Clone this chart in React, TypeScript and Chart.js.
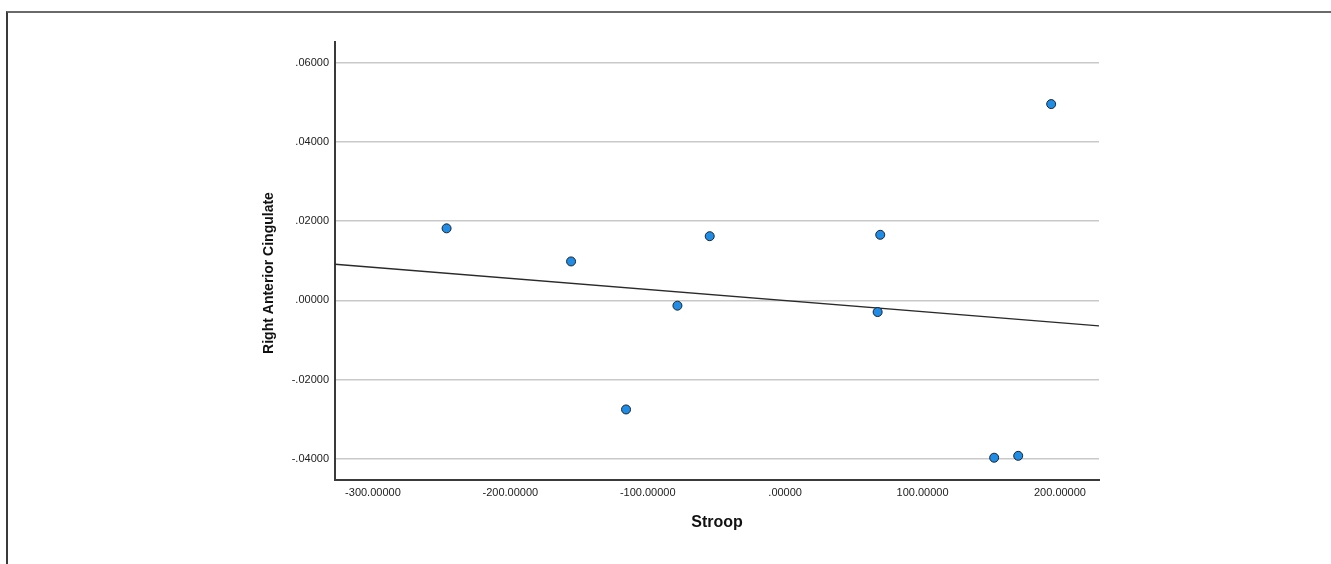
import React, { useEffect, useRef } from "react";
import { Chart, registerables } from "chart.js";

Chart.register(...registerables);

// Stroop scores (x) and Right Anterior Cingulate values (y)
const stroopValues = [-246.4, -155.8, -78.4, -115.8, -54.9, 69.2, 67.3, 152.1, 169.6, 193.6];
const racValues = [0.0182, 0.00984, -0.00134, -0.02757, 0.01622, 0.01657, -0.00295, -0.03977, -0.03929, 0.04961];

const xTicks = [-300, -200, -100, 0, 100, 200];
const yTicks = [-0.04, -0.02, 0, 0.02, 0.04, 0.06];

const xRange = [-327.6, 228.4];
const yRange = [-0.0454, 0.0653];

const xTitle = "Stroop";
const yTitle = "Right Anterior Cingulate";

const FONT = "'Liberation Sans', Arial, Helvetica, sans-serif";

function fmt(v: number): string {
  const s = Math.abs(v).toFixed(5);
  const body = s.startsWith("0") ? s.slice(1) : s;
  return (v < 0 ? "-" : "") + body;
}

function fitLine(xs: number[], ys: number[], x0: number, x1: number) {
  const n = xs.length;
  const mx = xs.reduce((a, b) => a + b, 0) / n;
  const my = ys.reduce((a, b) => a + b, 0) / n;
  let sxy = 0;
  let sxx = 0;
  for (let i = 0; i < n; i++) {
    sxy += (xs[i] - mx) * (ys[i] - my);
    sxx += (xs[i] - mx) * (xs[i] - mx);
  }
  const b = sxy / sxx;
  const a = my - b * mx;
  return [
    { x: x0, y: a + b * x0 },
    { x: x1, y: a + b * x1 },
  ];
}

// Draws the vertical axis title, slightly below the plot's vertical centre (as in the source)
const yTitlePlugin = {
  id: "yTitlePlugin",
  afterDraw(chart: any) {
    const { ctx, chartArea } = chart;
    const cx = chartArea.left - 66;
    const cy = (chartArea.top + chartArea.bottom) / 2 + 12;
    ctx.save();
    ctx.translate(cx, cy);
    ctx.rotate(-Math.PI / 2);
    ctx.font = `bold 14px ${FONT}`;
    ctx.fillStyle = "#111";
    ctx.textAlign = "center";
    ctx.textBaseline = "middle";
    ctx.fillText(yTitle, 0, 0);
    ctx.restore();
  },
};

export default function App() {
  const canvasRef = useRef<HTMLCanvasElement | null>(null);

  useEffect(() => {
    if (!canvasRef.current) return;
    const points = stroopValues.map((x, i) => ({ x, y: racValues[i] }));
    const line = fitLine(stroopValues, racValues, xRange[0], xRange[1]);

    const chart = new Chart(canvasRef.current, {
      type: "scatter",
      data: {
        datasets: [
          {
            type: "scatter",
            data: points,
            pointRadius: 4.5,
            pointBackgroundColor: "#1f8de6",
            pointBorderColor: "#1a2330",
            pointBorderWidth: 1,
          },
          {
            type: "line",
            data: line,
            borderColor: "#2a2a2a",
            borderWidth: 1.4,
            pointRadius: 0,
            fill: false,
          } as any,
        ],
      },
      options: {
        animation: false,
        responsive: false,
        events: [],
        layout: { padding: { left: 255, top: 42, right: 232, bottom: 24 } },
        plugins: {
          legend: { display: false },
          tooltip: { enabled: false },
        },
        scales: {
          x: {
            type: "linear",
            min: xRange[0],
            max: xRange[1],
            afterFit: (s: any) => {
              s.height = 60;
            },
            afterBuildTicks: (s: any) => {
              s.ticks = xTicks.map((v) => ({ value: v }));
            },
            grid: { display: false, drawTicks: false },
            border: { display: true, color: "#3a3a3a", width: 2 },
            ticks: {
              padding: 6,
              color: "#222",
              font: { family: FONT, size: 11 },
              maxRotation: 0,
              autoSkip: false,
              callback: (v: any) => fmt(Number(v)),
            },
            title: {
              display: true,
              text: xTitle,
              color: "#111",
              font: { family: FONT, size: 16, weight: "bold" },
              padding: { top: 0, bottom: 8 },
            },
          },
          y: {
            type: "linear",
            min: yRange[0],
            max: yRange[1],
            afterFit: (s: any) => {
              s.width = 80;
            },
            afterBuildTicks: (s: any) => {
              s.ticks = yTicks.map((v) => ({ value: v }));
            },
            grid: { display: true, drawTicks: false, color: "#c9c9c9", lineWidth: 1.5 },
            border: { display: true, color: "#3a3a3a", width: 2 },
            ticks: {
              padding: 6,
              color: "#222",
              font: { family: FONT, size: 11 },
              autoSkip: false,
              callback: (v: any) => fmt(Number(v)),
            },
            title: { display: false },
          },
        },
      },
      plugins: [yTitlePlugin],
    });
    return () => chart.destroy();
  }, []);

  return (
    <div style={{ position: "absolute", left: 0, top: 0, width: 1331, height: 564, background: "#fff", overflow: "hidden" }}>
      <div
        style={{
          position: "absolute",
          left: 6,
          top: 11,
          right: 0,
          bottom: 0,
          borderTop: "2px solid #6a6a6a",
          borderLeft: "2px solid #3a3a3a",
        }}
      />
      <canvas ref={canvasRef} width={1331} height={564} style={{ position: "absolute", left: 0, top: 0, display: "block" }} />
    </div>
  );
}
